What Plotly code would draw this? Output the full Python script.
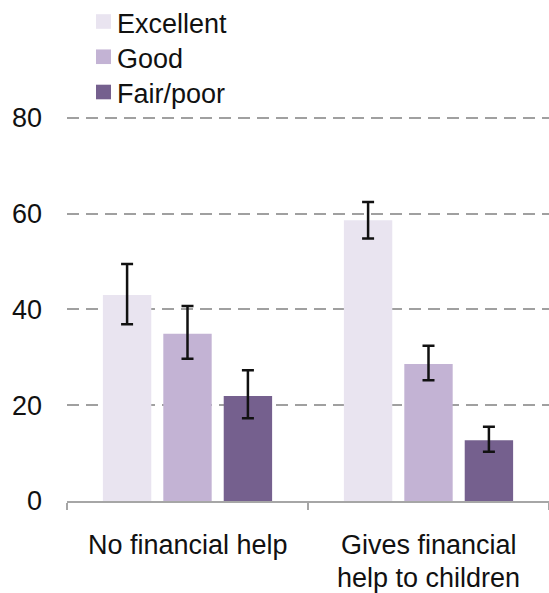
import plotly.graph_objects as go

# Share of respondents by self-rated health, split by whether they give financial help
categories = ["No financial help", "Gives financial help to children"]
category_label_lines = [["No financial help"], ["Gives financial", "help to children"]]
series_names = ["Excellent", "Good", "Fair/poor"]
values = {
    "Excellent": [43.0, 58.6],
    "Good": [34.9, 28.6],
    "Fair/poor": [21.9, 12.7],
}
ci_upper = {
    "Excellent": [49.5, 62.4],
    "Good": [40.7, 32.4],
    "Fair/poor": [27.3, 15.5],
}
ci_lower = {
    "Excellent": [36.9, 54.8],
    "Good": [29.7, 25.2],
    "Fair/poor": [17.3, 10.3],
}
y_ticks = [0, 20, 40, 60, 80]

colors = {"Excellent": "#e9e4f0", "Good": "#c3b3d4", "Fair/poor": "#75608e"}
FONT = "Liberation Sans, Arial, sans-serif"
FS = 27
TEXT = "#111111"

W, H = 549, 593
ML, MR, MT, MB = 67, 0, 113, 92
PW, PH = W - ML - MR, H - MT - MB


def px_to_paper(xp, yp):
    """Convert page pixel position to paper coordinates."""
    return (xp - ML) / PW, (H - MB - yp) / PH


fig = go.Figure()
for name in series_names:
    v = values[name]
    plus = [u - x for u, x in zip(ci_upper[name], v)]
    minus = [x - l for l, x in zip(ci_lower[name], v)]
    fig.add_trace(go.Bar(
        x=categories, y=v, name=name, marker_color=colors[name],
        marker_line_width=0, showlegend=False,
        error_y=dict(type="data", symmetric=False, array=plus, arrayminus=minus,
                     color="#111111", thickness=2.5, width=6),
    ))

shapes = []
annotations = []

# Legend: square swatches with labels stacked at the top left
for i, name in enumerate(series_names):
    cy = 21.5 + i * 35.25
    x0, y0 = px_to_paper(96, cy + 7.3)
    x1, y1 = px_to_paper(111, cy - 7.3)
    shapes.append(dict(type="rect", xref="paper", yref="paper", x0=x0, x1=x1,
                       y0=y0, y1=y1, fillcolor=colors[name], line_width=0))
    tx, ty = px_to_paper(114.5, cy + 2.5)
    annotations.append(dict(text=name, xref="paper", yref="paper", x=tx, y=ty,
                            xanchor="left", yanchor="middle", showarrow=False,
                            font=dict(family=FONT, size=FS, color=TEXT)))

# Category labels below the axis, one annotation per line
for cat, lines in zip(categories, category_label_lines):
    for j, line in enumerate(lines):
        _, ty = px_to_paper(0, 545 + j * 33)
        annotations.append(dict(text=line, xref="x", yref="paper", x=cat, y=ty,
                                xanchor="center", yanchor="middle", showarrow=False,
                                font=dict(family=FONT, size=FS, color=TEXT)))

fig.update_layout(
    width=W, height=H,
    margin=dict(l=ML, r=MR, t=MT, b=MB, autoexpand=False),
    paper_bgcolor="white", plot_bgcolor="white",
    barmode="group", bargap=0.248, bargroupgap=0.199,
    font=dict(family=FONT, size=FS, color=TEXT),
    showlegend=False,
    shapes=shapes,
    annotations=annotations,
    xaxis=dict(
        showline=True, linecolor="#a6a6a6", linewidth=2,
        ticks="outside", tickson="boundaries", ticklen=7, tickcolor="#a6a6a6", tickwidth=2,
        showgrid=False, showticklabels=False, automargin=False,
    ),
    yaxis=dict(
        range=[0, 81], tickvals=y_ticks, showgrid=True, gridcolor="#a0a0a0",
        gridwidth=2, griddash="12px,7px", zeroline=False, showline=False,
        ticks="", ticklabelstandoff=24, automargin=False,
        tickfont=dict(family=FONT, size=FS, color=TEXT),
    ),
)

fig.write_html("out.html")
